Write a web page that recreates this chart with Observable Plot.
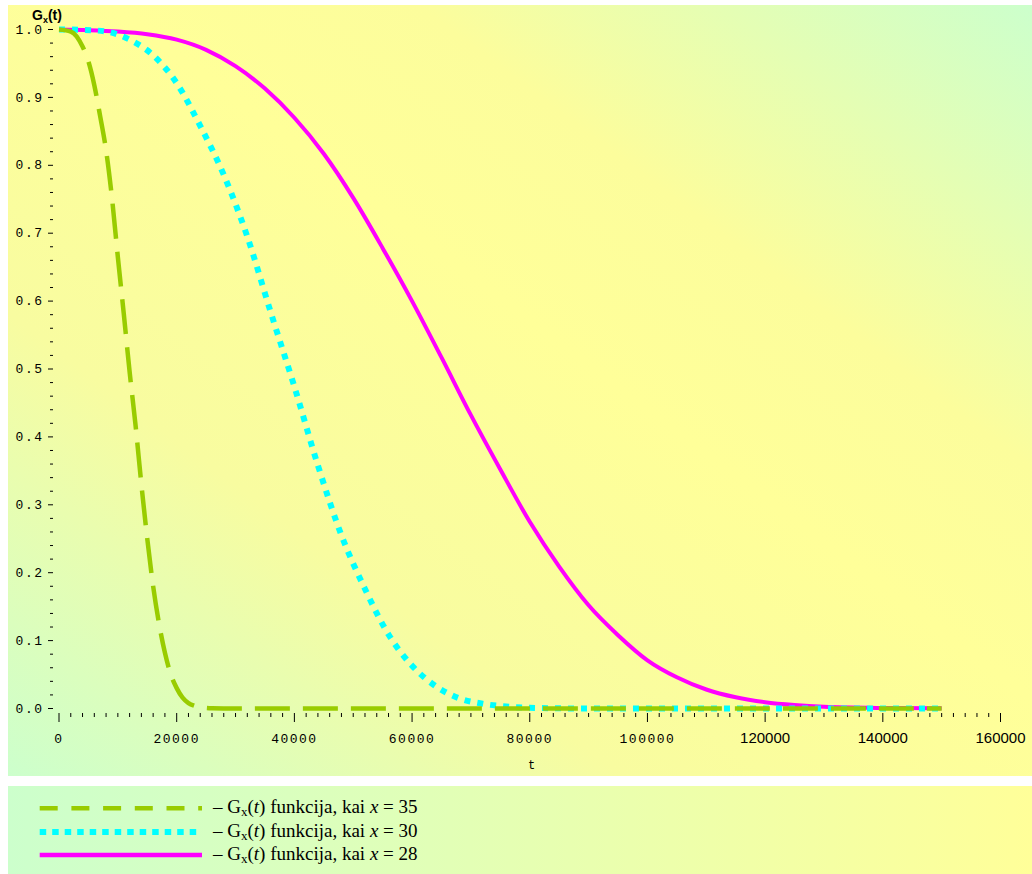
<!DOCTYPE html>
<html><head><meta charset="utf-8">
<script src="https://cdn.jsdelivr.net/npm/d3@7"></script>
<script src="https://cdn.jsdelivr.net/npm/@observablehq/plot@0.6"></script>
<style>
body{margin:0;background:#fff;}
#wrap{position:relative;width:1032px;height:874px;overflow:hidden;}
#panel{position:absolute;left:8px;top:5px;width:1024px;height:771px;background:linear-gradient(to top right,#ccffcc 0%,#f8fca0 30%,#ffff99 55%,#fcfd9c 70%,#ccffcc 100%);}
#panel svg{display:block;background:transparent;max-width:none}
g[font-family="Liberation Mono"] text{letter-spacing:1.5px}
#ylab{position:absolute;left:32px;top:8px;font:bold 14px "Liberation Sans",Arial,sans-serif;line-height:14px;white-space:nowrap}
#ylab sub{font-size:9px;vertical-align:-3px;line-height:0}
#xlab{position:absolute;left:528px;top:759px;font:12px "Liberation Mono",monospace}
#legend{position:absolute;left:8px;top:786px;width:1024px;height:88px;background:linear-gradient(to right,#ccffcc,#ffff99)}
.row{position:absolute;left:0;width:100%;height:24px}
.row svg{position:absolute;left:23px;top:0}
.row span{position:absolute;left:205px;top:0;font:19px "Liberation Serif","Times New Roman",serif;line-height:19px;white-space:nowrap;color:#000}
.row span sub{font-size:13px;vertical-align:-3px;line-height:0}
</style></head>
<body>
<div id="wrap">
  <div id="panel"></div>
  <div id="ylab">G<sub>x</sub>(t)</div>
  <div id="xlab">t</div>
  <div id="legend"></div>
</div>
<script>
// ---- data ----
// x = 35 (green, dashed)
const t35 = [0, 2000, 4000, 5000, 6000, 7000, 8000, 9000, 10000, 11000, 12000, 13000, 14000, 15000, 16000, 17000, 18000, 19000, 20000, 21000, 22000, 23000, 24000, 26000, 30000, 60000, 100000, 150000];
const g35 = [1.0, 0.997, 0.975, 0.953, 0.918, 0.872, 0.822, 0.752, 0.665, 0.582, 0.496, 0.418, 0.33, 0.25, 0.18, 0.125, 0.082, 0.05, 0.03, 0.016, 0.008, 0.004, 0.002, 0.0005, 0, 0, 0, 0];
// x = 30 (cyan, dotted)
const t30 = [0, 4000, 8000, 12000, 16000, 20000, 24000, 28000, 32000, 36000, 40000, 44000, 48000, 52000, 56000, 60000, 64000, 68000, 72000, 76000, 80000, 90000, 120000, 150000];
const g30 = [1.0, 0.9995, 0.997, 0.985, 0.962, 0.921, 0.858, 0.786, 0.695, 0.583, 0.474, 0.358, 0.255, 0.176, 0.109, 0.063, 0.033, 0.015, 0.007, 0.003, 0.001, 0, 0, 0];
// x = 28 (magenta, solid)
const t28 = [0, 5000, 10000, 15000, 20000, 25000, 30000, 35000, 40000, 45000, 50000, 55000, 60000, 65000, 70000, 75000, 80000, 85000, 90000, 95000, 100000, 105000, 110000, 115000, 120000, 125000, 130000, 140000, 150000];
const g28 = [1.0, 0.999, 0.997, 0.993, 0.985, 0.970, 0.946, 0.913, 0.870, 0.817, 0.752, 0.678, 0.600, 0.517, 0.432, 0.352, 0.275, 0.209, 0.152, 0.108, 0.071, 0.046, 0.028, 0.0165, 0.0092, 0.005, 0.0025, 0.0008, 0.0003];

const seriesX = [35, 30, 28];
const seriesColors = ["#99cc00", "#00ffff", "#ff00ff"];

const yTicks = [0, 0.1, 0.2, 0.3, 0.4, 0.5, 0.6, 0.7, 0.8, 0.9, 1.0];
const xTicksMono = [0, 20000, 40000, 60000, 80000, 100000];
const xTicksSans = [120000, 140000, 160000];

const yMinor = d3.range(0, 51).filter(i => i % 5 !== 0).map(i => i / 50);
const xMinor = d3.range(0, 81).filter(i => i % 10 !== 0).map(i => i * 2000);

const idx = n => d3.range(n);

const chart = Plot.plot({
  width: 1024, height: 771,
  marginLeft: 50.5, marginRight: 32, marginTop: 24, marginBottom: 68,
  style: {background: "transparent", overflow: "visible"},
  x: {domain: [0, 160000]},
  y: {domain: [0, 1]},
  marks: [
    Plot.axisY({ticks: yMinor, tickSize: 3, dx: -5.5, tickFormat: () => "", label: null}),
    Plot.axisY({ticks: yTicks, tickSize: 5, tickPadding: 5, dx: -5.5, tickFormat: d3.format(".1f"), fontFamily: "Liberation Mono", fontSize: 13, label: null}),
    Plot.axisX({ticks: xMinor, tickSize: 4, dy: 5, tickFormat: () => "", label: null}),
    Plot.axisX({ticks: xTicksMono, tickSize: 9, tickPadding: 11, dy: 5, tickFormat: d => String(d), fontFamily: "Liberation Mono", fontSize: 13, label: null}),
    Plot.axisX({ticks: xTicksSans, tickSize: 9, tickPadding: 10, dy: 5, tickFormat: d => String(d), fontFamily: "Liberation Sans", fontSize: 15, label: null}),
    Plot.line(idx(t28.length), {x: t28, y: g28, stroke: seriesColors[2], strokeWidth: 4, curve: "monotone-x", strokeLinecap: "butt"}),
    Plot.line(idx(t30.length), {x: t30, y: g30, stroke: seriesColors[1], strokeWidth: 6, strokeDasharray: "6,7", curve: "monotone-x", strokeLinecap: "butt"}),
    Plot.line(idx(t35.length), {x: t35, y: g35, stroke: seriesColors[0], strokeWidth: 4.5, strokeDasharray: "35,13", curve: "monotone-x", strokeLinecap: "butt"})
  ]
});
document.getElementById("panel").appendChild(chart);

// legend
const legend = document.getElementById("legend");
const swatchDash = ["18,13.7", "6.5,6", null];
const swatchWidth = [4.5, 6, 4.3];
const rowCenters = [22.3, 46, 69];
const textTops = [11, 35, 58];
seriesX.forEach((xv, i) => {
  const row = document.createElement("div");
  row.className = "row";
  row.style.top = "0px";
  row.style.height = "88px";
  const ns = "http://www.w3.org/2000/svg";
  const sw = document.createElementNS(ns, "svg");
  sw.setAttribute("width", 175);
  sw.setAttribute("height", 88);
  const ln = document.createElementNS(ns, "line");
  ln.setAttribute("x1", 8.7);
  ln.setAttribute("x2", i === 1 ? 166 : 171);
  ln.setAttribute("y1", rowCenters[i]);
  ln.setAttribute("y2", rowCenters[i]);
  ln.setAttribute("stroke", seriesColors[i]);
  ln.setAttribute("stroke-width", swatchWidth[i]);
  if (swatchDash[i]) ln.setAttribute("stroke-dasharray", swatchDash[i]);
  sw.appendChild(ln);
  row.appendChild(sw);
  const sp = document.createElement("span");
  sp.style.top = textTops[i] + "px";
  sp.innerHTML = "– G<sub>x</sub>(<i>t</i>) funkcija, kai <i>x</i> = " + xv;
  row.appendChild(sp);
  legend.appendChild(row);
});
</script>
</body></html>
